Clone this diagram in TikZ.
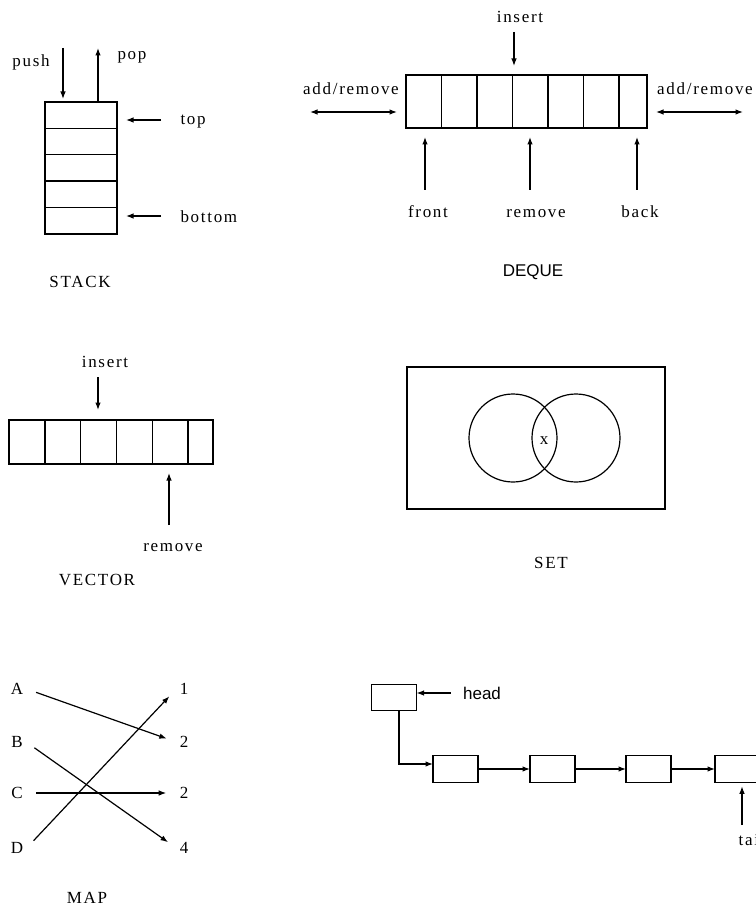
\documentclass[tikz,border=0pt]{standalone}
\usepackage{fontspec}
\setmainfont{Liberation Serif}[LetterSpace=10]
\newfontfamily\hsans{Liberation Sans}
\usetikzlibrary{arrows.meta,positioning,calc}
\tikzset{sc/.style={draw,line width=1.4pt,inner sep=0,outer sep=0,minimum width=72pt,minimum height=26.4pt},
 dc/.style={draw,line width=1.4pt,inner sep=0,outer sep=0,minimum width=35.5pt,minimum height=53pt},
 vc/.style={draw,line width=1.4pt,inner sep=0,outer sep=0,minimum width=35.8pt,minimum height=44pt},
 lb/.style={draw,line width=1.4pt,inner sep=0,outer sep=0,minimum width=45pt,minimum height=26.5pt},
 ar/.style={-{Latex[length=7.5pt,width=5.5pt]},line width=1.2pt},
 da/.style={{Latex[length=7.5pt,width=5.5pt]}-{Latex[length=7.5pt,width=5.5pt]},line width=1.2pt},
 ring/.style={circle,draw,line width=1.2pt,inner sep=0,minimum size=88pt}}
\begin{document}
\begin{tikzpicture}[x=1pt,y=-1pt,font=\fontsize{17}{20}\selectfont]
\useasboundingbox[fill=white](0,0)rectangle(755,909);
% stack
\node[sc] (s1) at (81,115.2) {};
\foreach \i [count=\j] in {2,...,5}{\node[sc,below=0pt of s\j] (s\i) {};}
\coordinate (pu) at (63,48);\coordinate (po) at (98,48);
\draw[ar,shorten >=3pt] (pu) -- (pu |- s1.north);\draw[ar] (po |- s1.north) -- (po);
\node (push) at (31,62) {push};\node (pop) at (132,57) {pop};
\coordinate (tpc) at (161,120);\coordinate (btc) at (161,216);
\draw[ar,shorten >=9pt] (tpc) -- (tpc -| s1.east);\draw[ar,shorten >=9pt] (btc) -- (btc -| s5.east);
\node[anchor=west] (top) at (177,122) {top};\node[anchor=west] (bot) at (177,217) {bottom};
\node (stk) at (80,282) {STACK};
% deque
\node[dc] (d1) at (423.75,101.5) {};
\foreach \i [count=\j] in {2,...,6}{\node[dc,right=0pt of d\j] (d\i) {};}
\node[dc,minimum width=28pt,right=0pt of d6] (d7) {};
\node (dins) at (520,17) {insert};\coordinate (dic) at (514,32);
\draw[ar,shorten >=9pt] (dic) -- (dic |- d1.north);
\node (ladd) at (351,89) {add/remove};\node (radd) at (705,89) {add/remove};
\coordinate (la1) at (310,112);\coordinate (la2) at (397,112);
\coordinate (ra1) at (656,112);\coordinate (ra2) at (743,112);
\draw[da] (la1) -- (la2);\draw[da] (ra1) -- (ra2);
\foreach \x/\n in {425/fc,530/rc,637/bc}{\coordinate (\n) at (\x,190);
 \draw[ar,shorten >=9pt] (\n) -- (\n |- d1.south);}
\node (frt) at (428,212) {front};\node (drm) at (536,214) {remove};\node (bck) at (640,212) {back};
\node[font=\fontsize{17}{20}\hsans] (dqe) at (533,272) {DEQUE};
% vector
\node[vc] (v1) at (26.9,442) {};
\foreach \i [count=\j] in {2,...,5}{\node[vc,right=0pt of v\j] (v\i) {};}
\node[vc,minimum width=25pt,right=0pt of v5] (v6) {};
\node (vins) at (105,362) {insert};\coordinate (vic) at (98,377);
\draw[ar,shorten >=10pt] (vic) -- (vic |- v1.north);
\coordinate (vrc) at (169,525);\draw[ar,shorten >=9pt] (vrc) -- (vrc |- v1.south);
\node (vrm) at (173,548) {remove};
\node (vec) at (97,580) {VECTOR};
% set
\node[draw,line width=1.4pt,inner sep=0,minimum width=258pt,minimum height=142pt] (sbox) at (536,438) {};
\node[ring] (ca) at (513,438) {};\node[ring] (cb) at (576,438) {};
\node (sx) at (544,441) {x};
\node (set) at (551,563) {SET};
% map
\foreach \n/\t/\y in {mA/A/689,mB/B/742,mC/C/793,mD/D/848}{\node (\n) at (17,\y) {\t};}
\foreach \n/\t/\y in {m1/1/689,m2/2/742,m3/2/793,m4/4/848}{\node (\n) at (184,\y) {\t};}
\foreach \a/\b in {mA/m2,mB/m4,mC/m3,mD/m1}{\draw[ar,shorten <=10pt,shorten >=10pt] (\a.east) -- (\b.west);}
\node (map) at (87,898) {MAP};
% list
\node[lb] (lh) at (394,697.5) {};
\node[lb] (l1) at (455.5,769) {};
\node[lb,right=52pt of l1] (l2) {};\node[lb,right=51pt of l2] (l3) {};\node[lb,right=44pt of l3] (l4) {};
\foreach \a/\b in {l1/l2,l2/l3,l3/l4}{\draw[ar] (\a) -- (\b);}
\draw[ar] ([xshift=5pt]lh.south) |- ([yshift=5pt]l1.west);
\node[font=\fontsize{17}{20}\hsans] (hd) at (482,693) {head};
\draw[ar] ([xshift=-9pt]hd.west) -- (lh.east |- hd.west);
\coordinate (tc) at (742,825);\draw[ar,shorten >=4pt] (tc) -- (tc |- l4.south);
\node (tl) at (752,840) {tail};
\end{tikzpicture}
\end{document}
